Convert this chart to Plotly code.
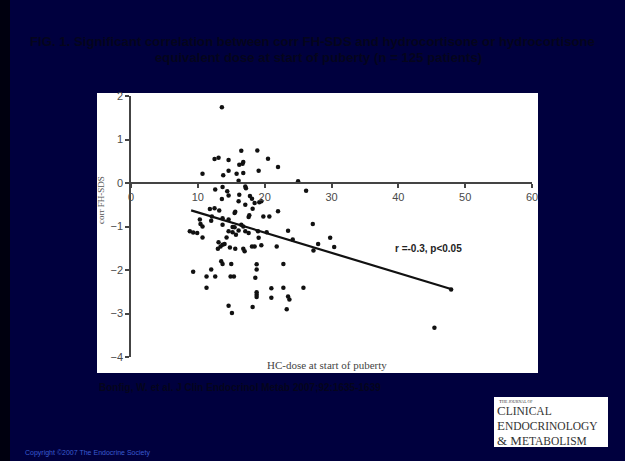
import plotly.graph_objects as go
import numpy as np

# ---- data ----
hc_dose = [
    13.6, 10.7, 12.5, 13.1, 14.6, 16.5, 18.9, 20.5, 22.0, 16.2, 16.8, 16.7, 14.6, 19.1, 15.8, 16.8, 13.8, 16.1, 25.0,
    26.2, 27.2, 12.6, 13.7, 14.4, 14.6, 13.6, 16.2, 17.1, 17.2, 17.8, 18.1, 16.1, 17.1, 18.5, 19.5, 19.2, 11.8, 12.5,
    13.2, 15.5, 15.6, 17.6, 17.7, 19.8, 20.7, 22.0, 12.1, 13.7, 10.3, 10.4, 12.0, 14.6, 18.2, 16.5, 13.7,
    10.7, 15.2, 15.5, 16.8, 16.1, 14.6, 15.2, 17.1, 17.6, 15.7, 19.0, 19.1, 20.3, 23.5, 8.8, 9.3, 9.9, 10.7, 13.1,
    14.3, 13.4, 13.7, 14.0, 13.0, 14.8, 15.6, 16.8, 17.0, 18.1, 18.5, 19.5, 21.8, 24.2, 28.0, 27.3, 29.8, 30.4,
    13.5, 13.7, 15.0, 18.8, 22.8,
    9.3, 12.0, 11.3, 12.6, 14.9, 15.4, 18.8, 18.6, 11.3, 21.0, 22.8, 25.8, 18.8, 18.8, 18.8, 21.0, 23.5, 23.7,
    23.3, 14.6, 15.1, 18.2, 45.4, 47.9,
]
corr_fh_sds = [
    1.74, 0.21, 0.55, 0.58, 0.53, 0.74, 0.75, 0.56, 0.37, 0.42, 0.48, 0.44, 0.28, 0.28, 0.21, 0.23, 0.18, 0.05, 0.04,
    -0.18, -0.94, -0.15, -0.09, -0.19, -0.29, -0.37, -0.27, -0.08, -0.12, -0.30, -0.36, -0.42, -0.50, -0.46, -0.42,
    -0.44, -0.60, -0.58, -0.63, -0.69, -0.66, -0.78, -0.74, -0.77, -0.77, -0.65, -0.77, -0.81, -0.84, -0.94, -0.87,
    -0.84, -0.59, -0.96, -0.96,
    -1.00, -1.01, -1.02, -1.00, -1.09, -1.11, -1.13, -1.11, -1.15, -1.19, -1.11, -1.26, -1.13, -1.10, -1.11, -1.14,
    -1.15, -1.25, -1.36, -1.25, -1.46, -1.42, -1.40, -1.51, -1.48, -1.51, -1.51, -1.57, -1.46, -1.46, -1.43, -1.46,
    -1.30, -1.40, -1.55, -1.26, -1.47,
    -1.80, -1.86, -1.86, -1.87, -1.86,
    -2.04, -1.99, -2.15, -2.15, -2.15, -2.15, -1.99, -2.18, -2.41, -2.42, -2.41, -2.41, -2.51, -2.57, -2.62, -2.64,
    -2.61, -2.68, -2.90, -2.82, -2.99, -2.85, -3.33, -2.45,
]
fit_intercept = -0.21
fit_slope = -0.0465
fit_x_range = [9.0, 48.0]
x_ticks = [0, 10, 20, 30, 40, 50, 60]
y_ticks = [2, 1, 0, -1, -2, -3, -4]

title_lines = ["FIG. 1. Significant correlation between corr FH-SDS and hydrocortisone or hydrocortisone",
               "equivalent dose at start of puberty (n = 125 patients)"]
citation = "Bonfig, W. et al. J Clin Endocrinol Metab 2007;92:1635-1639"
stats_text = "r =-0.3, p<0.05"
logo_lines = [("C", "LINICAL"), ("E", "NDOCRINOLOGY"), ("& M", "ETABOLISM")]

# ---- layout geometry ----
W, H = 625, 461
ML, MR, MT, MB = 131, 93, 96, 104
PL, PR, PT, PB = ML, W - MR, MT, H - MB


def px(x):
    return (x - PL) / (PR - PL)


def py(y):
    return (PB - y) / (PB - PT)


fig = go.Figure()
fig.add_trace(go.Scatter(x=hc_dose, y=corr_fh_sds, mode="markers",
                         marker=dict(color="#111111", size=4.5), showlegend=False,
                         hoverinfo="x+y"))
fx = np.array(fit_x_range)
fig.add_trace(go.Scatter(x=fx, y=fit_intercept + fit_slope * fx, mode="lines",
                         line=dict(color="#111111", width=2.2), showlegend=False))

axis_font = dict(family="Arial, Liberation Sans, sans-serif", size=11, color="#4a4a4a")
fig.update_layout(
    width=W, height=H,
    margin=dict(l=ML, r=MR, t=MT, b=MB, pad=0),
    paper_bgcolor="#00003e",
    plot_bgcolor="rgba(0,0,0,0)",
    xaxis=dict(range=[0, 60], tickvals=x_ticks, ticks="outside", ticklen=4, tickwidth=1.5,
               tickcolor="#444444", showline=True, linecolor="#444444", linewidth=1.5,
               showgrid=False, zeroline=False, anchor="free", position=4 / 6,
               tickfont=axis_font, fixedrange=True),
    yaxis=dict(range=[-4, 2], tickvals=y_ticks, ticks="outside", ticklen=4, tickwidth=1.5,
               tickcolor="#444444", showline=True, linecolor="#444444", linewidth=1.5,
               showgrid=False, zeroline=False, tickfont=axis_font, fixedrange=True),
    showlegend=False,
)

shapes = [
    # white chart panel
    dict(type="rect", xref="paper", yref="paper", x0=px(97), x1=px(538), y0=py(373), y1=py(93),
         fillcolor="white", line=dict(width=0), layer="below"),
    # left dark strip
    dict(type="rect", xref="paper", yref="paper", x0=px(0), x1=px(10), y0=py(H), y1=py(0),
         fillcolor="#00000f", line=dict(width=0), layer="below"),
    # journal logo panel
    dict(type="rect", xref="paper", yref="paper", x0=px(494), x1=px(608), y0=py(447), y1=py(397),
         fillcolor="white", line=dict(width=0), layer="below"),
]
fig.update_layout(shapes=shapes)

ann = []
title_font = dict(family="Arial, Liberation Sans, sans-serif", size=13.2, color="#05051c")
ann.append(dict(xref="paper", yref="paper", x=px(312), y=py(41), text="<b>%s</b>" % title_lines[0],
                showarrow=False, font=title_font, xanchor="center", yanchor="middle"))
ann.append(dict(xref="paper", yref="paper", x=px(318), y=py(57), text="<b>%s</b>" % title_lines[1],
                showarrow=False, font=title_font, xanchor="center", yanchor="middle"))
ann.append(dict(xref="paper", yref="paper", x=px(101), y=py(200), text="corr FH-SDS", textangle=-90,
                showarrow=False, font=dict(family="Liberation Serif, Times New Roman, serif", size=9,
                                           color="#555555"),
                xanchor="center", yanchor="middle"))
ann.append(dict(xref="paper", yref="paper", x=px(327), y=py(365), text="HC-dose at start of puberty",
                showarrow=False, font=dict(family="Liberation Serif, Times New Roman, serif", size=11,
                                           color="#444444"),
                xanchor="center", yanchor="middle"))
ann.append(dict(xref="paper", yref="paper", x=px(428), y=py(248), text="<b>%s</b>" % stats_text,
                showarrow=False, font=dict(family="Arial, Liberation Sans, sans-serif", size=10,
                                           color="#222222"),
                xanchor="center", yanchor="middle"))
ann.append(dict(xref="paper", yref="paper", x=px(97), y=py(387), text="<b>%s</b>" % citation,
                showarrow=False, font=dict(family="Arial, Liberation Sans, sans-serif", size=10,
                                           color="#05051c"),
                xanchor="left", yanchor="middle"))
ann.append(dict(xref="paper", yref="paper", x=px(23), y=py(453), text="Copyright ©2007 The Endocrine Society",
                showarrow=False, font=dict(family="Arial, Liberation Sans, sans-serif", size=7,
                                           color="#3a5bd0"),
                xanchor="left", yanchor="middle"))
ann.append(dict(xref="paper", yref="paper", x=px(497), y=py(401),
                text="T<span style='font-size:4px'>HE JOURNAL OF</span>", showarrow=False,
                font=dict(family="Liberation Serif, serif", size=5, color="#333333"),
                xanchor="left", yanchor="middle"))
logo_text = "<br>".join("<span style='font-size:13px'>%s</span>%s" % (b, s) for b, s in logo_lines)
ann.append(dict(xref="paper", yref="paper", x=px(495), y=py(425.5), text=logo_text, showarrow=False,
                align="left", font=dict(family="Liberation Serif, serif", size=11.5, color="#333333"),
                xanchor="left", yanchor="middle"))
fig.update_layout(annotations=ann)

fig.write_html("out.html", config={"displayModeBar": False},
               post_script="document.body.style.margin='0';")
